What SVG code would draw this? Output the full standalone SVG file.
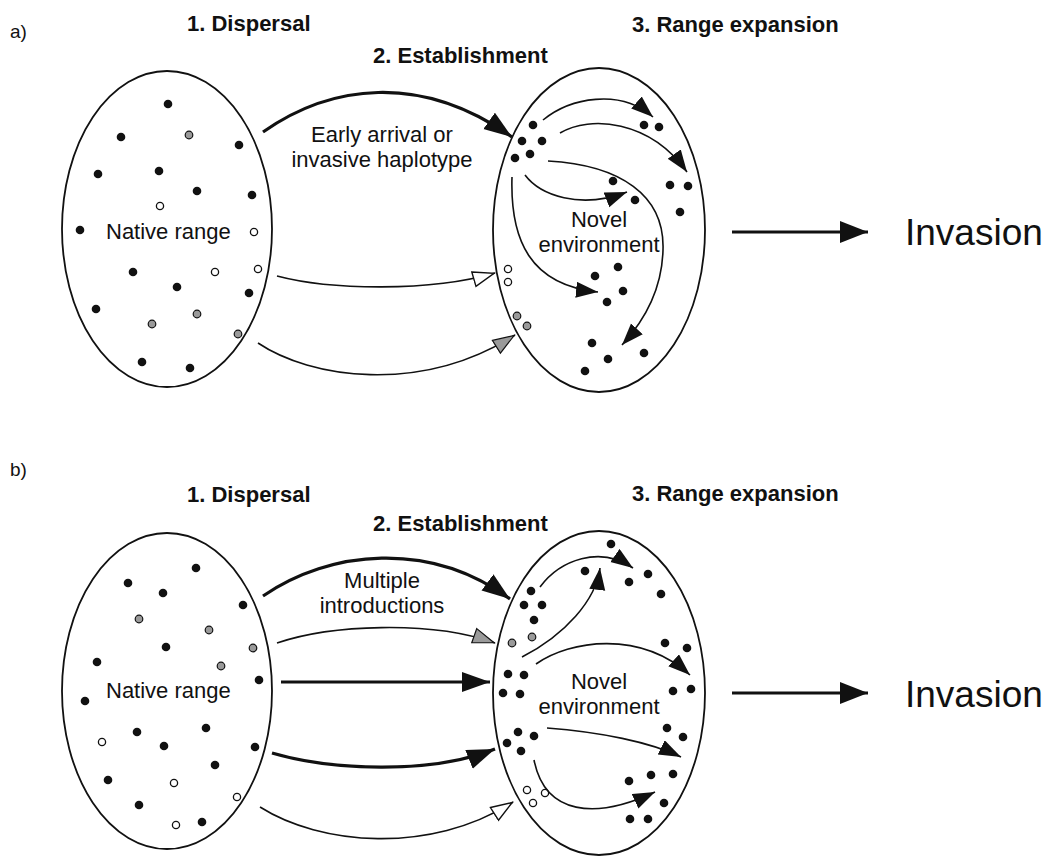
<svg xmlns="http://www.w3.org/2000/svg" width="1043" height="857" viewBox="0 0 1043 857">
<style>
.bg{fill:#fff}
.range{fill:#fff;stroke:#111;stroke-width:1.8}
.d{fill:#111}
.g{fill:#9a9a9a;stroke:#111;stroke-width:1.2}
.o{fill:#fff;stroke:#111;stroke-width:1.3}
.lbl{font-family:"Liberation Sans",Arial,sans-serif;font-size:22px;fill:#111}
.mid{text-anchor:middle}
.hd{font-family:"Liberation Sans",Arial,sans-serif;font-size:22px;font-weight:bold;fill:#111}
.pl{font-family:"Liberation Sans",Arial,sans-serif;font-size:19px;fill:#111}
.inv{font-family:"Liberation Sans",Arial,sans-serif;font-size:37px;fill:#111}
.thick{fill:none;stroke:#111;stroke-width:3.2}
.thin{fill:none;stroke:#111;stroke-width:1.6}
</style>
<defs>
<marker id="big" markerUnits="userSpaceOnUse" markerWidth="30" markerHeight="22" refX="28" refY="10" orient="auto"><path d="M0,0 L28,10 L0,20 z" fill="#111"/></marker>
<marker id="inv" markerUnits="userSpaceOnUse" markerWidth="30" markerHeight="24" refX="28" refY="11" orient="auto"><path d="M0,0 L28,11 L0,22 z" fill="#111"/></marker>
<marker id="med" markerUnits="userSpaceOnUse" markerWidth="24" markerHeight="18" refX="22" refY="8" orient="auto"><path d="M0,0 L22,8 L0,16 z" fill="#111"/></marker>
<marker id="open" markerUnits="userSpaceOnUse" markerWidth="26" markerHeight="20" refX="23" refY="9" orient="auto"><path d="M1,1.5 L22,9 L1,16.5 z" fill="#fff" stroke="#111" stroke-width="1.4"/></marker>
<marker id="grey" markerUnits="userSpaceOnUse" markerWidth="26" markerHeight="20" refX="23" refY="9" orient="auto"><path d="M1,1.5 L22,9 L1,16.5 z" fill="#9a9a9a" stroke="#111" stroke-width="1.2"/></marker>
</defs>
<rect class="bg" x="0" y="0" width="1043" height="857"/>

<g id="headings">
<text class="pl" x="10" y="38">a)</text>
<text class="hd" x="187" y="31">1. Dispersal</text>
<text class="hd" x="373" y="63">2. Establishment</text>
<text class="hd" x="632" y="32">3. Range expansion</text>
<text class="pl" x="10" y="476">b)</text>
<text class="hd" x="187" y="502">1. Dispersal</text>
<text class="hd" x="373" y="531">2. Establishment</text>
<text class="hd" x="632" y="501">3. Range expansion</text>
</g>

<g id="a-native">
<ellipse class="range" cx="167" cy="229" rx="105" ry="158"/>
<text class="lbl" x="106" y="239">Native range</text>
<circle class="d" cx="168" cy="104" r="4.3"/>
<circle class="d" cx="121" cy="137" r="4.3"/>
<circle class="g" cx="189" cy="135" r="3.8"/>
<circle class="d" cx="239" cy="145" r="4.3"/>
<circle class="d" cx="98" cy="174" r="4.3"/>
<circle class="d" cx="159" cy="171" r="4.3"/>
<circle class="d" cx="197" cy="191" r="4.3"/>
<circle class="d" cx="252" cy="195" r="4.3"/>
<circle class="o" cx="160" cy="206" r="3.6"/>
<circle class="d" cx="80" cy="230" r="4.3"/>
<circle class="o" cx="254" cy="232" r="3.6"/>
<circle class="d" cx="133" cy="272" r="4.3"/>
<circle class="o" cx="215" cy="272" r="3.6"/>
<circle class="o" cx="258" cy="269" r="3.6"/>
<circle class="d" cx="177" cy="287" r="4.3"/>
<circle class="d" cx="249" cy="293" r="4.3"/>
<circle class="d" cx="96" cy="309" r="4.3"/>
<circle class="g" cx="197" cy="314" r="3.8"/>
<circle class="g" cx="152" cy="324" r="3.8"/>
<circle class="g" cx="238" cy="334" r="3.8"/>
<circle class="d" cx="142" cy="362" r="4.3"/>
<circle class="d" cx="190" cy="368" r="4.3"/>
</g>

<g id="a-novel">
<ellipse class="range" cx="599" cy="230" rx="106" ry="162"/>
<text class="lbl mid" x="599" y="227">Novel</text>
<text class="lbl mid" x="599" y="252">environment</text>
<circle class="d" cx="533" cy="125" r="4.3"/>
<circle class="d" cx="522" cy="141" r="4.3"/>
<circle class="d" cx="542" cy="141" r="4.3"/>
<circle class="d" cx="530" cy="154" r="4.3"/>
<circle class="d" cx="515" cy="158" r="4.3"/>
<circle class="d" cx="644" cy="125" r="4.3"/>
<circle class="d" cx="659" cy="127" r="4.3"/>
<circle class="d" cx="670" cy="185" r="4.3"/>
<circle class="d" cx="688" cy="186" r="4.3"/>
<circle class="d" cx="680" cy="212" r="4.3"/>
<circle class="d" cx="613" cy="181" r="4.3"/>
<circle class="d" cx="635" cy="200" r="4.3"/>
<circle class="d" cx="618" cy="267" r="4.3"/>
<circle class="d" cx="595" cy="276" r="4.3"/>
<circle class="d" cx="623" cy="291" r="4.3"/>
<circle class="d" cx="607" cy="302" r="4.3"/>
<circle class="d" cx="592" cy="343" r="4.3"/>
<circle class="d" cx="608" cy="359" r="4.3"/>
<circle class="d" cx="644" cy="353" r="4.3"/>
<circle class="d" cx="585" cy="371" r="4.3"/>
<circle class="o" cx="508" cy="269" r="3.6"/>
<circle class="o" cx="508" cy="282" r="3.6"/>
<circle class="g" cx="517" cy="316" r="3.8"/>
<circle class="g" cx="527" cy="326" r="3.8"/>
</g>

<g id="a-labels">
<text class="lbl mid" x="382" y="142">Early arrival or</text>
<text class="lbl mid" x="382" y="167">invasive haplotype</text>
</g>

<g id="a-invasion">
<text class="inv" x="905" y="245">Invasion</text>
</g>

<g id="b-native">
<ellipse class="range" cx="167" cy="691" rx="105" ry="158"/>
<text class="lbl" x="106" y="698">Native range</text>
<circle class="d" cx="196" cy="568" r="4.3"/>
<circle class="d" cx="128" cy="583" r="4.3"/>
<circle class="d" cx="163" cy="593" r="4.3"/>
<circle class="d" cx="243" cy="605" r="4.3"/>
<circle class="g" cx="139" cy="619" r="3.8"/>
<circle class="g" cx="209" cy="630" r="3.8"/>
<circle class="d" cx="166" cy="647" r="4.3"/>
<circle class="g" cx="253" cy="648" r="3.8"/>
<circle class="d" cx="97" cy="662" r="4.3"/>
<circle class="g" cx="221" cy="666" r="3.8"/>
<circle class="d" cx="259" cy="680" r="4.3"/>
<circle class="d" cx="85" cy="701" r="4.3"/>
<circle class="d" cx="137" cy="732" r="4.3"/>
<circle class="d" cx="206" cy="728" r="4.3"/>
<circle class="o" cx="102" cy="742" r="3.6"/>
<circle class="d" cx="164" cy="746" r="4.3"/>
<circle class="d" cx="255" cy="747" r="4.3"/>
<circle class="d" cx="215" cy="765" r="4.3"/>
<circle class="d" cx="108" cy="780" r="4.3"/>
<circle class="o" cx="174" cy="783" r="3.6"/>
<circle class="o" cx="237" cy="797" r="3.6"/>
<circle class="d" cx="139" cy="805" r="4.3"/>
<circle class="o" cx="176" cy="825" r="3.6"/>
<circle class="d" cx="202" cy="822" r="4.3"/>
</g>

<g id="b-novel">
<ellipse class="range" cx="599" cy="693" rx="106" ry="162"/>
<text class="lbl mid" x="599" y="689">Novel</text>
<text class="lbl mid" x="599" y="714">environment</text>
<circle class="d" cx="611" cy="544" r="4.3"/>
<circle class="d" cx="585" cy="571" r="4.3"/>
<circle class="d" cx="629" cy="582" r="4.3"/>
<circle class="d" cx="648" cy="574" r="4.3"/>
<circle class="d" cx="661" cy="594" r="4.3"/>
<circle class="d" cx="531" cy="591" r="4.3"/>
<circle class="d" cx="524" cy="605" r="4.3"/>
<circle class="d" cx="542" cy="605" r="4.3"/>
<circle class="d" cx="534" cy="620" r="4.3"/>
<circle class="g" cx="512" cy="643" r="3.8"/>
<circle class="g" cx="532" cy="637" r="3.8"/>
<circle class="d" cx="508" cy="674" r="4.3"/>
<circle class="d" cx="524" cy="675" r="4.3"/>
<circle class="d" cx="503" cy="693" r="4.3"/>
<circle class="d" cx="520" cy="694" r="4.3"/>
<circle class="d" cx="665" cy="643" r="4.3"/>
<circle class="d" cx="687" cy="648" r="4.3"/>
<circle class="d" cx="673" cy="691" r="4.3"/>
<circle class="d" cx="691" cy="689" r="4.3"/>
<circle class="d" cx="518" cy="732" r="4.3"/>
<circle class="d" cx="534" cy="736" r="4.3"/>
<circle class="d" cx="507" cy="743" r="4.3"/>
<circle class="d" cx="521" cy="751" r="4.3"/>
<circle class="d" cx="667" cy="728" r="4.3"/>
<circle class="d" cx="683" cy="737" r="4.3"/>
<circle class="d" cx="629" cy="781" r="4.3"/>
<circle class="d" cx="651" cy="775" r="4.3"/>
<circle class="d" cx="673" cy="774" r="4.3"/>
<circle class="d" cx="664" cy="803" r="4.3"/>
<circle class="d" cx="630" cy="819" r="4.3"/>
<circle class="d" cx="648" cy="819" r="4.3"/>
<circle class="o" cx="527" cy="790" r="3.6"/>
<circle class="o" cx="545" cy="793" r="3.6"/>
<circle class="o" cx="533" cy="803" r="3.6"/>
</g>

<g id="b-labels">
<text class="lbl mid" x="382" y="588">Multiple</text>
<text class="lbl mid" x="382" y="613">introductions</text>
</g>

<g id="b-invasion">
<text class="inv" x="905" y="707">Invasion</text>
</g>

<g id="connectors">
<path class="thick" d="M263,132 C330,85 420,72 512,137" marker-end="url(#big)"/>
<path class="thin" d="M277,276 C330,290 430,292 495,273" marker-end="url(#open)"/>
<path class="thin" d="M258,343 C310,378 420,395 515,335" marker-end="url(#grey)"/>
<path class="thin" d="M543,120 C570,98 620,88 653,117" marker-end="url(#med)"/>
<path class="thin" d="M560,133 C590,115 650,120 687,172" marker-end="url(#med)"/>
<path class="thin" d="M525,175 C540,195 580,210 627,192" marker-end="url(#med)"/>
<path class="thin" d="M548,161 C620,165 665,195 663,250 C662,290 645,320 622,345" marker-end="url(#med)"/>
<path class="thin" d="M512,177 C510,240 530,285 598,292" marker-end="url(#med)"/>
<path class="thick" d="M732,232 L868,232" marker-end="url(#inv)"/>

<path class="thick" d="M263,596 C330,550 430,540 510,599" marker-end="url(#big)"/>
<path class="thin" d="M277,643 C330,625 430,620 495,643" marker-end="url(#grey)"/>
<path class="thick" d="M281,682 L490,682" marker-end="url(#big)"/>
<path class="thick" d="M272,753 C330,770 430,775 495,749" marker-end="url(#big)"/>
<path class="thin" d="M260,807 C320,845 430,855 513,802" marker-end="url(#open)"/>
<path class="thin" d="M540,587 C560,560 600,545 633,568" marker-end="url(#med)"/>
<path class="thin" d="M522,657 C565,635 596,600 600,568" marker-end="url(#med)"/>
<path class="thin" d="M536,664 C570,640 640,630 690,675" marker-end="url(#med)"/>
<path class="thin" d="M547,728 C600,732 650,742 681,757" marker-end="url(#med)"/>
<path class="thin" d="M534,760 C545,815 595,820 655,792" marker-end="url(#med)"/>
<path class="thick" d="M732,693 L868,693" marker-end="url(#inv)"/>
</g>
</svg>
